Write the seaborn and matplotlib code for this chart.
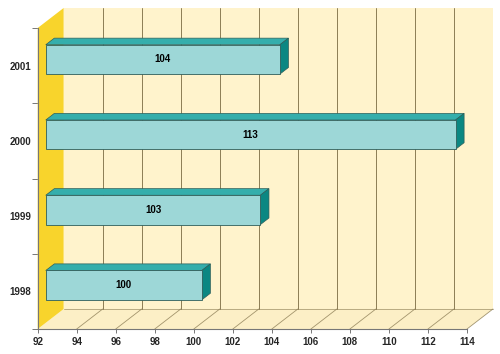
import matplotlib
matplotlib.use("Agg")
import matplotlib.pyplot as plt
from matplotlib.patches import Polygon
import pandas as pd
import seaborn as sns

years = ["2001", "2000", "1999", "1998"]
values = [104, 113, 103, 100]
x_ticks = list(range(92, 115, 2))

BASE, TOP = 92, 114
DX, DY = 1.33, -0.266   # depth of the fake 3d box, in data units
F1, F2 = 0.31, 0.64     # where the bars sit inside that depth

WALL = "#FFF3CC"
FLOOR = "#FCEFC6"
SIDE = "#F8D42C"
GRID = "#8C7D55"
BAR_FRONT = "#9DD7D7"
BAR_TOP = "#35AEAC"
BAR_SIDE = "#0B8782"
EDGE = "#2E5E5A"

sns.set_style("white")
plt.rcParams["font.family"] = ["Liberation Sans", "DejaVu Sans"]

fig = plt.figure(figsize=(5, 3.54), dpi=100)
ax = fig.add_axes([37.7 / 500, 25 / 354, 429.3 / 500, 301 / 354])

df = pd.DataFrame({"year": years, "value": values})
sns.barplot(data=df, x="value", y="year", orient="h", color=BAR_FRONT,
            saturation=1, width=0.39, edgecolor=EDGE, linewidth=0.6, ax=ax)
ax.set_xlim(BASE, TOP)
ax.set_ylim(len(years) - 0.5, -0.5)
ax.patch.set_visible(False)

lo, hi = -0.5, len(years) - 0.5

# walls and floor
back = [(BASE + DX, lo + DY), (TOP + DX, lo + DY), (TOP + DX, hi + DY), (BASE + DX, hi + DY)]
floor = [(BASE, hi), (TOP, hi), (TOP + DX, hi + DY), (BASE + DX, hi + DY)]
side = [(BASE, lo), (BASE + DX, lo + DY), (BASE + DX, hi + DY), (BASE, hi)]
ax.add_patch(Polygon(back, closed=True, fc=WALL, ec="none", clip_on=False, zorder=0.5))
ax.add_patch(Polygon(floor, closed=True, fc=FLOOR, ec="none", clip_on=False, zorder=0.6))
ax.add_patch(Polygon(side, closed=True, fc=SIDE, ec="none", clip_on=False, zorder=0.7))

for v in x_ticks[1:-1]:
    ax.plot([v + DX, v + DX], [lo + DY, hi + DY], color=GRID, lw=0.7, clip_on=False, zorder=0.8)
for v in x_ticks[1:]:
    ax.plot([v, v + DX], [hi, hi + DY], color=GRID, lw=0.6, alpha=0.8, clip_on=False, zorder=0.8)
ax.plot([BASE + DX, TOP + DX], [hi + DY, hi + DY], color=GRID, lw=0.6, alpha=0.7,
        clip_on=False, zorder=0.8)

# turn the flat bars into boxes
ddx, ddy = (F2 - F1) * DX, (F2 - F1) * DY
for bar, v in zip(ax.patches[:len(values)], values):
    bar.set_x(BASE + F1 * DX)
    bar.set_y(bar.get_y() + F1 * DY)
    bar.set_width(v - BASE)
    bar.set_zorder(3)
    x0, x1 = bar.get_x(), bar.get_x() + bar.get_width()
    yt, yb = bar.get_y(), bar.get_y() + bar.get_height()
    top = [(x0, yt), (x1, yt), (x1 + ddx, yt + ddy), (x0 + ddx, yt + ddy)]
    rside = [(x1, yt), (x1, yb), (x1 + ddx, yb + ddy), (x1 + ddx, yt + ddy)]
    ax.add_patch(Polygon(top, closed=True, fc=BAR_TOP, ec=EDGE, lw=0.5, zorder=2.9))
    ax.add_patch(Polygon(rside, closed=True, fc=BAR_SIDE, ec=EDGE, lw=0.5, zorder=2.9))
    ax.text((x0 + x1) / 2, (yt + yb) / 2, str(v), ha="center", va="center",
            fontsize=7, fontweight="bold", color="black", zorder=4)

ax.set_xticks(x_ticks)
ax.set_xticklabels([str(t) for t in x_ticks], fontsize=7, fontweight="bold")
ax.set_yticks(range(len(years)))
ax.set_yticklabels(years, fontsize=7, fontweight="bold")
ax.set_yticks([i - 0.5 for i in range(len(years) + 1)], minor=True)
ax.tick_params(axis="y", which="major", length=0, pad=5)
ax.tick_params(axis="y", which="minor", length=4, width=0.7, color="#777777", left=True)
ax.tick_params(axis="x", length=3, width=0.7, color="#777777", pad=3, bottom=True)
ax.set_xlabel("")
ax.set_ylabel("")
for s in ["top", "right"]:
    ax.spines[s].set_visible(False)
for s in ["left", "bottom"]:
    ax.spines[s].set_color("#777777")
    ax.spines[s].set_linewidth(0.8)

fig.savefig("out.png", dpi=100)
